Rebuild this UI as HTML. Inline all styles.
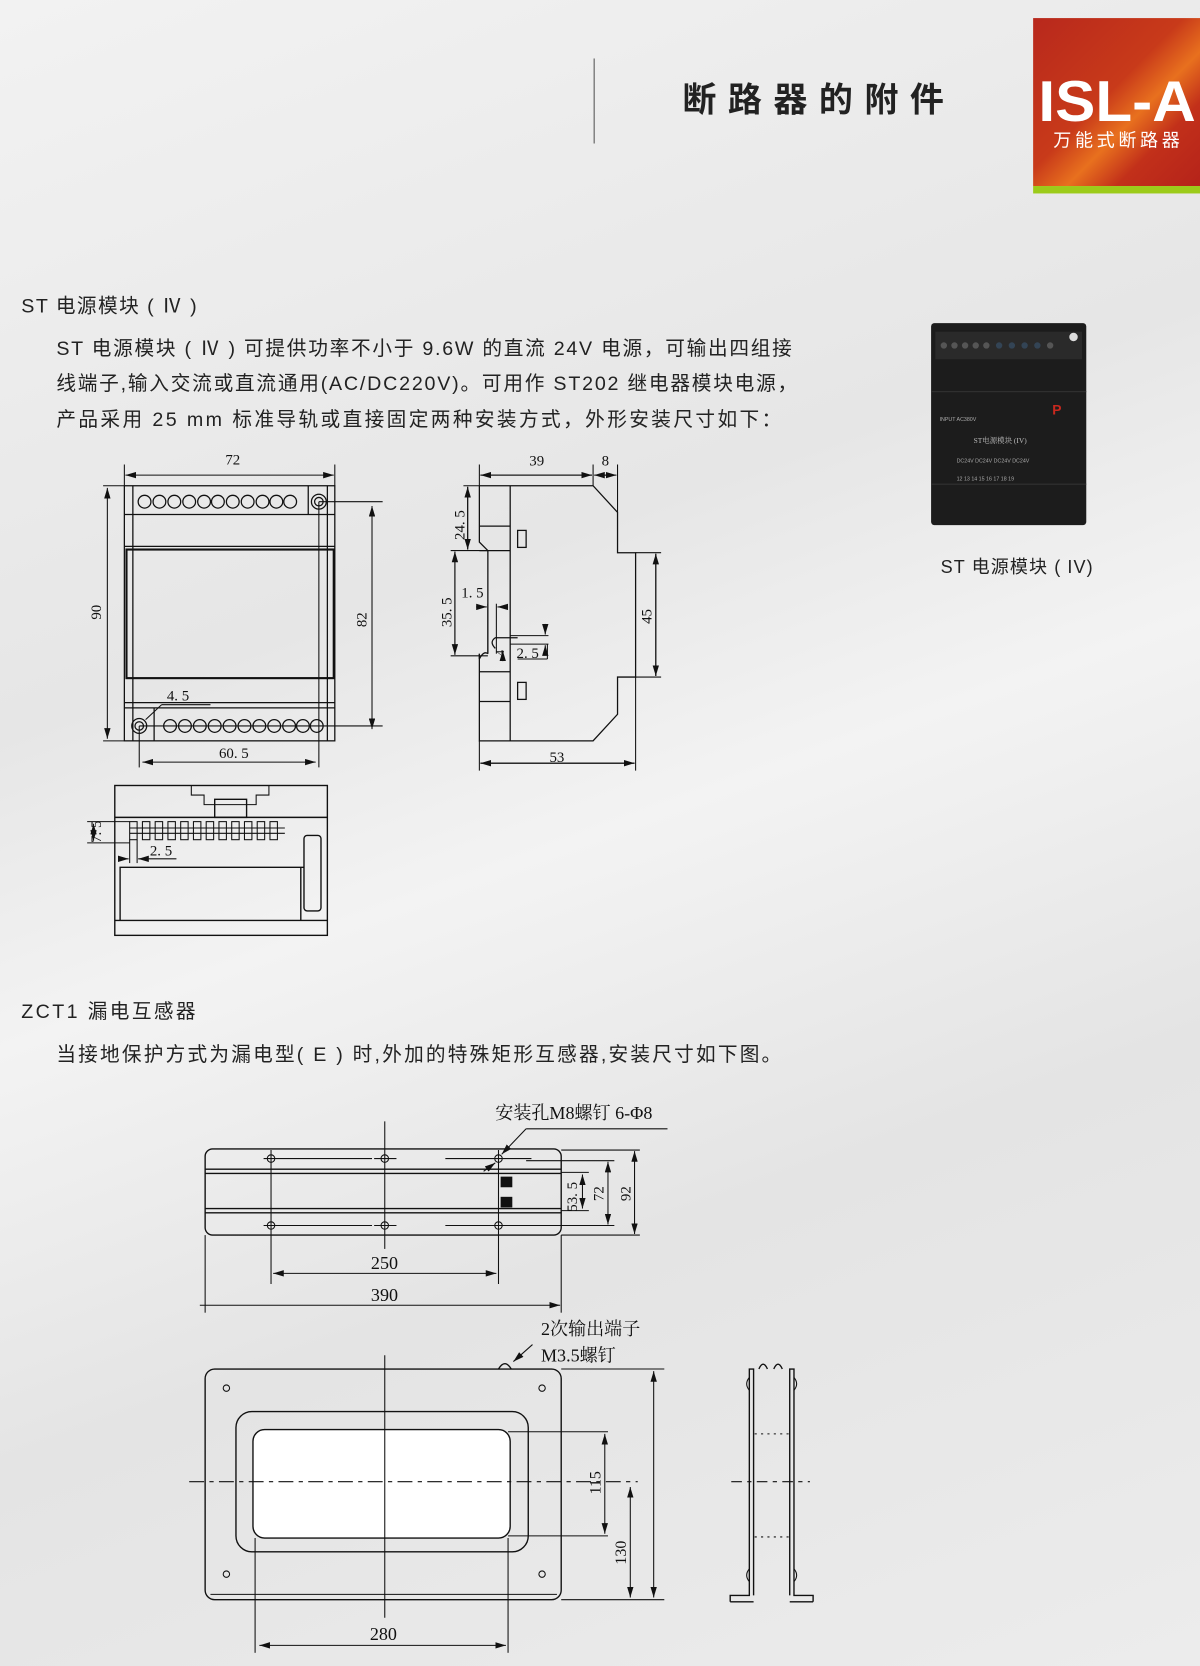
<!DOCTYPE html>
<html><head><meta charset="utf-8"><style>
html,body{margin:0;padding:0;}
body{width:1200px;height:1666px;overflow:hidden;background:linear-gradient(160deg,#f2f2f2 0%,#e6e6e6 35%,#f3f3f3 50%,#e4e4e4 70%,#ececec 100%);}
svg{display:block}
text{font-family:"Liberation Sans","Noto Sans CJK SC",sans-serif;}
.s{font-family:"Liberation Serif","Noto Serif CJK SC",serif;}
</style></head><body>
<svg width="1200" height="1666" viewBox="0 0 1129 1567.4" xmlns="http://www.w3.org/2000/svg">
<defs>
<linearGradient id="red" x1="0" y1="0" x2="1" y2="1">
<stop offset="0" stop-color="#b8281c"/><stop offset="0.45" stop-color="#c83a1a"/><stop offset="0.6" stop-color="#e8701e"/><stop offset="0.75" stop-color="#c2301a"/><stop offset="1" stop-color="#b5231a"/></linearGradient>
<marker id="a" viewBox="0 0 10 6" refX="10" refY="3" markerWidth="10" markerHeight="6" orient="auto-start-reverse"><path d="M0,0L10,3L0,6z" fill="#111"/></marker>
</defs>
<!-- header -->
<line x1="559" y1="55" x2="559" y2="135" stroke="#555" stroke-width="1"/>
<text x="642" y="105" font-size="32" fill="#222" font-weight="bold" textLength="246" lengthAdjust="spacing">断路器的附件</text>
<rect x="972" y="17" width="157" height="158" fill="url(#red)"/>
<rect x="972" y="175" width="157" height="7" fill="#9ccb1a"/>
<text x="977" y="114" font-size="54" font-weight="bold" fill="#fff" textLength="148" lengthAdjust="spacingAndGlyphs">ISL-A</text>
<text x="991" y="138" font-size="17" fill="#fff" textLength="119" lengthAdjust="spacing">万能式断路器</text>
<!-- section 1 text -->
<text x="20" y="294" font-size="18.5" fill="#222" textLength="165" lengthAdjust="spacing">ST 电源模块 ( Ⅳ )</text>
<text x="53" y="334" font-size="18.5" fill="#222" textLength="692" lengthAdjust="spacing">ST 电源模块 ( Ⅳ ) 可提供功率不小于 9.6W 的直流 24V 电源，可输出四组接</text>
<text x="53" y="367" font-size="18.5" fill="#222" textLength="697" lengthAdjust="spacing">线端子,输入交流或直流通用(AC/DC220V)。可用作 ST202 继电器模块电源，</text>
<text x="53" y="401" font-size="18.5" fill="#222" textLength="682" lengthAdjust="spacing">产品采用 25 mm 标准导轨或直接固定两种安装方式，外形安装尺寸如下：</text>
<!-- photo -->
<g>
<rect x="876" y="304" width="146" height="190" rx="3" fill="#1c1c1c"/>
<rect x="880" y="312" width="138" height="26" fill="#2a2a2a"/>
<g fill="#555"><circle cx="888" cy="325" r="3"/><circle cx="898" cy="325" r="3"/><circle cx="908" cy="325" r="3"/><circle cx="918" cy="325" r="3"/><circle cx="928" cy="325" r="3"/><circle cx="940" cy="325" r="3" fill="#345"/><circle cx="952" cy="325" r="3" fill="#345"/><circle cx="964" cy="325" r="3" fill="#345"/><circle cx="976" cy="325" r="3" fill="#345"/><circle cx="988" cy="325" r="3"/></g>
<circle cx="1010" cy="317" r="4" fill="#ddd"/>
<rect x="876" y="368" width="146" height="1" fill="#333"/>
<rect x="876" y="455" width="146" height="1" fill="#333"/>
<text x="990" y="390" font-size="13" fill="#c8281e" font-weight="bold">P</text>
<text x="916" y="417" font-size="7" fill="#bbb" class="s">ST电源模块 (IV)</text>
<text x="884" y="396" font-size="5" fill="#aaa">INPUT AC380V</text>
<text x="900" y="435" font-size="5" fill="#aaa">DC24V   DC24V   DC24V   DC24V</text>
<text x="900" y="452" font-size="5" fill="#aaa">12 13   14 15   16 17   18 19</text>
</g>
<text x="885" y="539" font-size="17" fill="#222" textLength="143" lengthAdjust="spacing">ST 电源模块 ( IV)</text>

<!-- drawing 1 -->
<g fill="none" stroke="#111" stroke-width="1.2">
<rect x="117" y="457" width="198" height="240"/>
<line x1="125" y1="457" x2="125" y2="697"/><line x1="308" y1="457" x2="308" y2="697"/>
<line x1="117" y1="484" x2="315" y2="484"/>
<line x1="290" y1="457" x2="290" y2="484"/>
<line x1="117" y1="514" x2="315" y2="514"/>
<rect x="119" y="517" width="195" height="121" stroke-width="2"/>
<line x1="117" y1="661" x2="315" y2="661"/>
<line x1="117" y1="666" x2="315" y2="666"/>
<line x1="145" y1="666" x2="145" y2="697"/>
<g>
<circle cx="136" cy="472" r="6"/><circle cx="150" cy="472" r="6"/><circle cx="164" cy="472" r="6"/><circle cx="178" cy="472" r="6"/><circle cx="192" cy="472" r="6"/><circle cx="205" cy="472" r="6"/><circle cx="219" cy="472" r="6"/><circle cx="233" cy="472" r="6"/><circle cx="247" cy="472" r="6"/><circle cx="260" cy="472" r="6"/><circle cx="273" cy="472" r="6"/>
<circle cx="160" cy="683" r="6"/><circle cx="174" cy="683" r="6"/><circle cx="188" cy="683" r="6"/><circle cx="202" cy="683" r="6"/><circle cx="216" cy="683" r="6"/><circle cx="230" cy="683" r="6"/><circle cx="244" cy="683" r="6"/><circle cx="258" cy="683" r="6"/><circle cx="272" cy="683" r="6"/><circle cx="285" cy="683" r="6"/><circle cx="298" cy="683" r="6"/>
</g>
<circle cx="300" cy="472" r="7"/><circle cx="300" cy="472" r="4"/>
<circle cx="131" cy="683" r="7"/><circle cx="131" cy="683" r="4"/>
<line x1="300" y1="472" x2="360" y2="472" stroke-width="1"/>
<line x1="131" y1="683" x2="360" y2="683" stroke-width="1"/>
<line x1="300" y1="472" x2="300" y2="722" stroke-width="1"/>
<line x1="131" y1="683" x2="131" y2="722" stroke-width="1"/>
<line x1="97" y1="457" x2="117" y2="457" stroke-width="1"/><line x1="97" y1="697" x2="117" y2="697" stroke-width="1"/>
<line x1="117" y1="437" x2="117" y2="457" stroke-width="1"/><line x1="315" y1="437" x2="315" y2="457" stroke-width="1"/>
<g stroke-width="1" marker-start="url(#a)" marker-end="url(#a)">
<line x1="118" y1="447" x2="314" y2="447"/>
<line x1="101" y1="459" x2="101" y2="695"/>
<line x1="350" y1="476" x2="350" y2="686"/>
<line x1="134" y1="717" x2="297" y2="717"/>
</g>
<line x1="137" y1="677" x2="152" y2="663" stroke-width="1"/><line x1="152" y1="663" x2="198" y2="663" stroke-width="1"/>
</g>
<g class="s" font-size="14" fill="#111">
<text x="212" y="437" class="s">72</text>
<text x="95" y="583" class="s" transform="rotate(-90 95 583)">90</text>
<text x="345" y="590" class="s" transform="rotate(-90 345 590)">82</text>
<text x="157" y="659" class="s">4. 5</text>
<text x="206" y="713" class="s">60. 5</text>
</g>

<!-- side view -->
<g fill="none" stroke="#111" stroke-width="1.2">
<path d="M451,457 L558,457 L581,482 L581,520 L598,520 L598,637 L581,637 L581,672 L558,697 L451,697 L451,615"/>
<path d="M451,457 L451,510 L459,518 L459,615"/>
<line x1="480" y1="457" x2="480" y2="697"/>
<line x1="451" y1="495" x2="480" y2="495"/><line x1="451" y1="518" x2="480" y2="518"/>
<line x1="451" y1="632" x2="480" y2="632"/><line x1="451" y1="660" x2="480" y2="660"/>
<rect x="487" y="499" width="8" height="16"/><rect x="487" y="642" width="8" height="16"/>
<path d="M451,615 L451,620 Q455,612 459,615"/>
<path d="M466,610 Q460,604 466,600 L487,600"/>
<g stroke-width="1">
<line x1="451" y1="437" x2="451" y2="457"/><line x1="558" y1="437" x2="558" y2="457"/><line x1="581" y1="437" x2="581" y2="482"/>
<line x1="451" y1="697" x2="451" y2="725"/><line x1="598" y1="637" x2="598" y2="725"/>
<line x1="598" y1="520" x2="622" y2="520"/><line x1="598" y1="637" x2="622" y2="637"/>
<line x1="436" y1="457" x2="451" y2="457"/><line x1="424" y1="518" x2="459" y2="518"/><line x1="424" y1="617" x2="459" y2="617"/>
<line x1="459" y1="568" x2="459" y2="615"/><line x1="467" y1="568" x2="467" y2="615"/>
<line x1="480" y1="598" x2="516" y2="598"/><line x1="480" y1="606" x2="516" y2="606"/>
<line x1="515" y1="606" x2="515" y2="620"/><line x1="487" y1="620" x2="515" y2="620"/>
<g marker-end="url(#a)">
<line x1="452" y1="447" x2="557" y2="447"/><line x1="557" y1="447" x2="452" y2="447"/>
<line x1="566" y1="447" x2="580" y2="447"/><line x1="573" y1="447" x2="559" y2="447"/>
<line x1="452" y1="718" x2="597" y2="718"/><line x1="597" y1="718" x2="452" y2="718"/>
<line x1="617" y1="521" x2="617" y2="636"/><line x1="617" y1="636" x2="617" y2="521"/>
<line x1="440" y1="458" x2="440" y2="517"/><line x1="440" y1="517" x2="440" y2="458"/>
<line x1="428" y1="519" x2="428" y2="616"/><line x1="428" y1="616" x2="428" y2="519"/>
<line x1="448" y1="571" x2="458" y2="571"/><line x1="478" y1="571" x2="468" y2="571"/>
<line x1="513" y1="587" x2="513" y2="597"/><line x1="513" y1="616" x2="513" y2="607"/>
<line x1="473" y1="622" x2="473" y2="612"/>
</g>
</g>
</g>
<g class="s" font-size="14" fill="#111">
<text x="498" y="438" class="s">39</text>
<text x="566" y="438" class="s">8</text>
<text x="517" y="717" class="s">53</text>
<text x="613" y="587" class="s" transform="rotate(-90 613 587)">45</text>
<text x="437" y="508" class="s" transform="rotate(-90 437 508)">24. 5</text>
<text x="425" y="590" class="s" transform="rotate(-90 425 590)">35. 5</text>
<text x="434" y="562" class="s">1. 5</text>
<text x="486" y="619" class="s">2. 5</text>
<text x="474" y="617" class="s" font-size="11" transform="rotate(-90 474 617)">4</text>
</g>

<!-- bottom view -->
<g fill="none" stroke="#111" stroke-width="1.3">
<rect x="108" y="739" width="200" height="141"/>
<line x1="108" y1="769" x2="308" y2="769"/>
<path d="M180,739 L180,748 L192,748 L192,757 L241,757 L241,748 L253,748 L253,739" stroke-width="1"/>
<rect x="202" y="752" width="30" height="17"/>
<g stroke-width="1">
<rect x="122" y="773" width="7" height="17"/><rect x="134" y="773" width="7" height="17"/><rect x="146" y="773" width="7" height="17"/><rect x="158" y="773" width="7" height="17"/><rect x="170" y="773" width="7" height="17"/><rect x="182" y="773" width="7" height="17"/><rect x="194" y="773" width="7" height="17"/><rect x="206" y="773" width="7" height="17"/><rect x="218" y="773" width="7" height="17"/><rect x="230" y="773" width="7" height="17"/><rect x="242" y="773" width="7" height="17"/><rect x="254" y="773" width="7" height="17"/>
<line x1="122" y1="779" x2="268" y2="779"/><line x1="122" y1="784" x2="268" y2="784"/>
</g>
<rect x="286" y="786" width="16" height="71" rx="3"/>
<path d="M113,866 L113,816 L286,816"/>
<line x1="108" y1="866" x2="308" y2="866"/>
<line x1="283" y1="816" x2="283" y2="866"/>
<g stroke-width="1"><line x1="82" y1="773" x2="122" y2="773"/><line x1="82" y1="793" x2="122" y2="793"/>
<line x1="122" y1="790" x2="122" y2="812"/><line x1="129" y1="790" x2="129" y2="812"/>
<line x1="88" y1="775" x2="88" y2="791" marker-start="url(#a)" marker-end="url(#a)"/>
<line x1="112" y1="808" x2="121" y2="808" marker-end="url(#a)"/><line x1="166" y1="808" x2="130" y2="808" marker-end="url(#a)"/>
</g>
</g>
<text x="95" y="793" font-size="14" class="s" fill="#111" transform="rotate(-90 95 793)">7. 5</text>
<text x="141" y="805" font-size="14" class="s" fill="#111">2. 5</text>

<!-- ZCT text -->
<text x="20" y="958" font-size="18.5" fill="#222" textLength="164" lengthAdjust="spacing">ZCT1 漏电互感器</text>
<text x="53" y="998" font-size="18.5" fill="#222" textLength="682" lengthAdjust="spacing">当接地保护方式为漏电型( E ) 时,外加的特殊矩形互感器,安装尺寸如下图。</text>

<!-- ZCT top view -->
<g fill="none" stroke="#111" stroke-width="1.3">
<rect x="193" y="1081" width="335" height="81" rx="7"/>
<line x1="193" y1="1100" x2="528" y2="1100"/><line x1="193" y1="1104" x2="528" y2="1104"/>
<line x1="193" y1="1137" x2="528" y2="1137"/><line x1="193" y1="1141" x2="528" y2="1141"/>
<g stroke-width="1">
<circle cx="255" cy="1090" r="3.5"/><circle cx="362" cy="1090" r="3.5"/><circle cx="469" cy="1090" r="3.5"/>
<circle cx="255" cy="1153" r="3.5"/><circle cx="362" cy="1153" r="3.5"/><circle cx="469" cy="1153" r="3.5"/>
<line x1="255" y1="1082" x2="255" y2="1208"/><line x1="362" y1="1055" x2="362" y2="1175"/><line x1="469" y1="1082" x2="469" y2="1208"/>
<line x1="248" y1="1090" x2="350" y2="1090"/><line x1="352" y1="1090" x2="373" y2="1090"/><line x1="419" y1="1090" x2="500" y2="1090"/>
<line x1="248" y1="1153" x2="350" y2="1153"/><line x1="352" y1="1153" x2="373" y2="1153"/><line x1="419" y1="1153" x2="500" y2="1153"/>
<line x1="193" y1="1162" x2="193" y2="1235"/><line x1="528" y1="1162" x2="528" y2="1235"/>
<line x1="528" y1="1082" x2="602" y2="1082"/><line x1="495" y1="1092" x2="578" y2="1092"/>
<line x1="528" y1="1103" x2="554" y2="1103"/><line x1="528" y1="1139" x2="554" y2="1139"/>
<line x1="495" y1="1153" x2="578" y2="1153"/><line x1="528" y1="1162" x2="602" y2="1162"/>
<g marker-start="url(#a)" marker-end="url(#a)">
<line x1="548" y1="1105" x2="548" y2="1137"/>
<line x1="572" y1="1093" x2="572" y2="1152"/>
<line x1="597" y1="1083" x2="597" y2="1161"/>
<line x1="257" y1="1198" x2="467" y2="1198"/>
</g>
<line x1="188" y1="1228" x2="527" y2="1228" marker-end="url(#a)"/>
<line x1="628" y1="1062" x2="495" y2="1062"/>
<line x1="495" y1="1062" x2="472" y2="1086" marker-end="url(#a)"/>
<line x1="455" y1="1102" x2="466" y2="1094" marker-end="url(#a)"/>
</g>
</g>
<rect x="471" y="1107" width="11" height="10" fill="#111"/><rect x="471" y="1126" width="11" height="10" fill="#111"/>
<text x="466" y="1053" font-size="17" class="s" fill="#111">安装孔M8螺钉 6-Φ8</text>
<text x="349" y="1194" font-size="17" class="s" fill="#111">250</text>
<text x="349" y="1224" font-size="17" class="s" fill="#111">390</text>
<text x="543" y="1140" font-size="14" class="s" fill="#111" transform="rotate(-90 543 1140)">53. 5</text>
<text x="568" y="1130" font-size="14" class="s" fill="#111" transform="rotate(-90 568 1130)">72</text>
<text x="593" y="1130" font-size="14" class="s" fill="#111" transform="rotate(-90 593 1130)">92</text>

<!-- ZCT front view -->
<g fill="none" stroke="#111" stroke-width="1.3">
<rect x="193" y="1288" width="335" height="217" rx="9"/>
<line x1="198" y1="1500" x2="524" y2="1500" stroke-width="1"/>
<rect x="222" y="1328" width="275" height="132" rx="15"/>
<rect x="238" y="1345" width="242" height="102" rx="11" fill="#fff"/>
<g stroke-width="1">
<circle cx="213" cy="1306" r="3"/><circle cx="510" cy="1306" r="3"/><circle cx="213" cy="1481" r="3"/><circle cx="510" cy="1481" r="3"/>
<line x1="362" y1="1275" x2="362" y2="1522"/>
<line x1="178" y1="1394" x2="600" y2="1394" stroke-dasharray="14,5,4,5"/>
<line x1="240" y1="1447" x2="240" y2="1555"/><line x1="478" y1="1447" x2="478" y2="1555"/>
<line x1="478" y1="1347" x2="572" y2="1347"/><line x1="478" y1="1445" x2="572" y2="1445"/>
<line x1="528" y1="1288" x2="625" y2="1288"/><line x1="528" y1="1505" x2="625" y2="1505"/>
<g marker-start="url(#a)" marker-end="url(#a)">
<line x1="244" y1="1548" x2="476" y2="1548"/>
<line x1="569" y1="1349" x2="569" y2="1443"/>
<line x1="593" y1="1399" x2="593" y2="1503"/>
<line x1="615" y1="1290" x2="615" y2="1503"/>
</g>
<line x1="501" y1="1265" x2="483" y2="1281" marker-end="url(#a)"/>
</g>
<path d="M469,1288 Q475,1278 481,1288"/>
</g>
<text x="348" y="1543" font-size="17" class="s" fill="#111">280</text>
<text x="509" y="1256" font-size="17" class="s" fill="#111">2次输出端子</text>
<text x="509" y="1281" font-size="17" class="s" fill="#111">M3.5螺钉</text>
<text x="565" y="1406" font-size="15" class="s" fill="#111" transform="rotate(-90 565 1406)">115</text>
<text x="589" y="1472" font-size="15" class="s" fill="#111" transform="rotate(-90 589 1472)">130</text>

<!-- ZCT side view -->
<g fill="none" stroke="#111" stroke-width="1.3">
<path d="M687,1507 L687,1501 L705,1501 L705,1288 L709,1288 L709,1501"/>
<path d="M765,1507 L765,1501 L747,1501 L747,1288 L743,1288 L743,1501"/>
<line x1="687" y1="1507" x2="709" y2="1507"/><line x1="743" y1="1507" x2="765" y2="1507"/>
<path d="M714,1288 Q718,1279 722,1288 M728,1288 Q732,1279 736,1288"/>
<path d="M705,1296 Q700,1302 705,1308 M747,1296 Q752,1302 747,1308 M705,1476 Q700,1482 705,1488 M747,1476 Q752,1482 747,1488" stroke-width="1"/>
<g stroke-width="1">
<line x1="688" y1="1394" x2="762" y2="1394" stroke-dasharray="10,5,4,5"/>
<line x1="710" y1="1349" x2="742" y2="1349" stroke-dasharray="2,4"/>
<line x1="710" y1="1446" x2="742" y2="1446" stroke-dasharray="2,4"/>
</g>
</g>
</svg>
</body></html>
